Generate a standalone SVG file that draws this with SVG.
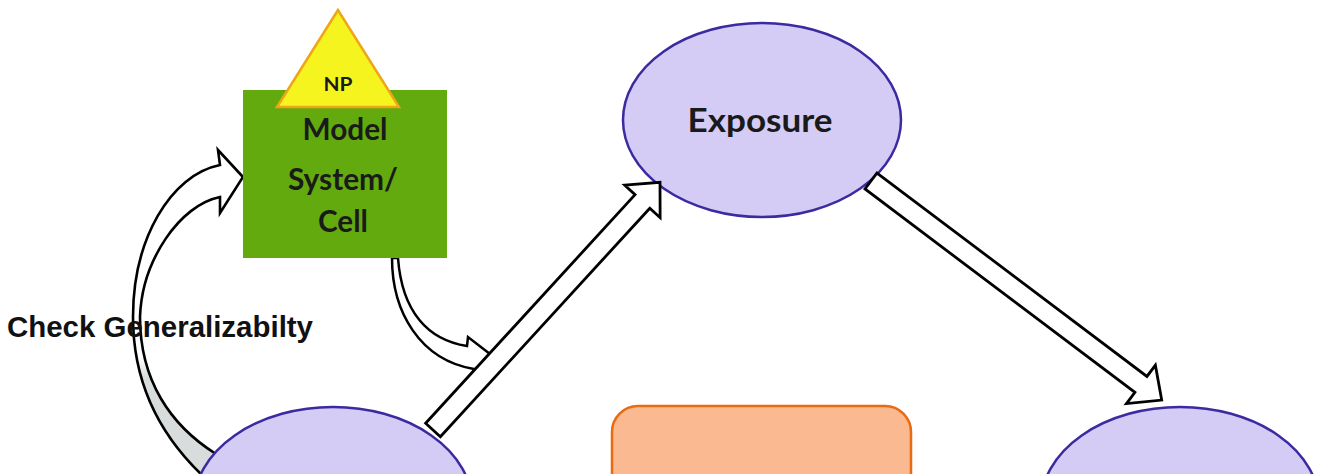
<svg xmlns="http://www.w3.org/2000/svg" width="1323" height="474" viewBox="0 0 1323 474">
<style>
.ell{fill:#d5ccf5;stroke:#3b2aa0;stroke-width:2.5}
.blk{fill:#ffffff;stroke:#000;stroke-width:2.8;stroke-linejoin:miter}
.lbl{font-family:Lato,"Open Sans",sans-serif;font-weight:bold;fill:#1a1a1a;text-anchor:middle}
</style>
<defs>
<linearGradient id="band" gradientUnits="userSpaceOnUse" x1="0" y1="150" x2="0" y2="474">
<stop offset="0" stop-color="#ffffff"/>
<stop offset="0.64" stop-color="#ffffff"/>
<stop offset="0.7" stop-color="#d9dcdc"/>
<stop offset="1" stop-color="#d9dcdc"/>
</linearGradient>
</defs>
<rect width="1323" height="474" fill="#ffffff"/>

<g id="connectors-back">
<path id="check-arrow" d="M203,476 C165,440 133,390 133,317 C133,240 170,175 220,165 L218,150 L243,177 L220,213 L220,197 C180,205 142,260 140,317 C140,380 170,425 216,454 Z" fill="url(#band)" stroke="#000" stroke-width="2.6" stroke-linejoin="miter"/>
<path id="cell-arrow" d="M392,258 C392,312 420,360 474,369 L473,376 L490,354 L468,337 L467,346 C428,340 402,312 398,258 Z" fill="#ffffff" stroke="#000" stroke-width="2.5"/>
</g>

<g id="node-model">
<rect x="243" y="90" width="204" height="168" fill="#62aa0e"/>
<polygon points="338,10 277,107 399,107" fill="#f6f41e" stroke="#f0a418" stroke-width="2.5"/>
<text class="lbl" x="338" y="91" font-size="18" textLength="29" lengthAdjust="spacingAndGlyphs">NP</text>
<text class="lbl" x="345" y="140" font-size="30" textLength="85" lengthAdjust="spacingAndGlyphs">Model</text>
<text class="lbl" x="343" y="190" font-size="30" textLength="110" lengthAdjust="spacingAndGlyphs">System/</text>
<text class="lbl" x="343" y="232" font-size="30" textLength="50" lengthAdjust="spacingAndGlyphs">Cell</text>
</g>

<g id="node-exposure">
<ellipse class="ell" cx="762" cy="120" rx="139" ry="97"/>
<text class="lbl" x="760" y="132" font-size="32" textLength="145" lengthAdjust="spacingAndGlyphs">Exposure</text>
</g>

<g id="node-left">
<ellipse class="ell" cx="333" cy="504" rx="139" ry="97"/>
</g>

<g id="node-right">
<ellipse class="ell" cx="1180" cy="504" rx="139" ry="97"/>
</g>

<g id="node-center">
<rect x="612" y="406" width="299" height="120" rx="26" ry="26" fill="#fbb992" stroke="#ea6a10" stroke-width="2.5"/>
</g>

<g id="label-check">
<text x="7" y="337" font-family="'Liberation Sans',Arial,sans-serif" font-weight="bold" font-size="29" fill="#111" textLength="306" lengthAdjust="spacingAndGlyphs">Check Generalizabilty</text>
</g>

<g id="connectors">
<polygon class="blk" transform="translate(433,430) rotate(-47.5)" points="0,-10 310,-10 310,-24 336,0 310,24 310,10 0,10"/>
<polygon class="blk" transform="translate(871,181) rotate(37)" points="0,-10 338,-10 338,-24 364,0 338,24 338,10 0,10"/>
</g>
</svg>
